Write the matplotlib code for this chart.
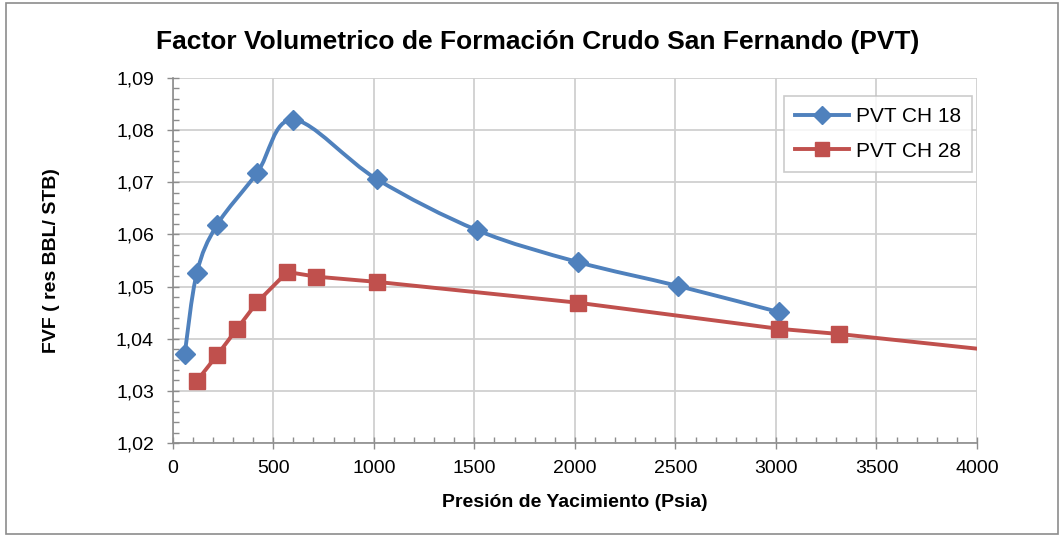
import matplotlib
matplotlib.use('Agg')
import matplotlib.pyplot as plt
from matplotlib.path import Path
from matplotlib.patches import PathPatch, Rectangle
from matplotlib.ticker import MultipleLocator, FuncFormatter
import numpy as np

# ==========================================
# Datos
# ==========================================
p_ch18 = [60, 120, 220, 420, 600, 1015, 1515, 2015, 2515, 3015]
bo_ch18 = [1.0371, 1.0526, 1.0618, 1.0718, 1.0820, 1.0706, 1.0608, 1.0547, 1.0501, 1.0451]

p_ch28 = [120, 220, 320, 420, 570, 715, 1015, 2015, 3015, 3315, 4315]
bo_ch28 = [1.0319, 1.0368, 1.0419, 1.0470, 1.0528, 1.0519, 1.0509, 1.0469, 1.0419, 1.0409, 1.0368]

label_ch18 = 'PVT CH 18'
label_ch28 = 'PVT CH 28'
blue = '#4F81BD'
red = '#C0504D'

plt.rcParams['font.family'] = ['Liberation Sans', 'DejaVu Sans']


def smooth_path(x, y):
    # curva suavizada tipo Excel (Catmull-Rom -> Bezier)
    pts = np.column_stack([x, y]).astype(float)
    n = len(pts)
    verts = [pts[0]]
    codes = [Path.MOVETO]
    for i in range(n - 1):
        p0 = pts[i - 1] if i > 0 else pts[i]
        p1 = pts[i]
        p2 = pts[i + 1]
        p3 = pts[i + 2] if i + 2 < n else pts[i + 1]
        c1 = p1 + (p2 - p0) / 6.0
        c2 = p2 - (p3 - p1) / 6.0
        verts += [c1, c2, p2]
        codes += [Path.CURVE4] * 3
    return Path(verts, codes)


fig = plt.figure(figsize=(10.62, 5.36), dpi=100)
ax = fig.add_axes([0.1626, 0.1735, 0.7574, 0.681])

# CH 18 suavizada, CH 28 con segmentos rectos
ax.add_patch(PathPatch(smooth_path(p_ch18, bo_ch18), facecolor='none', edgecolor=blue,
                       lw=2.8, zorder=3, capstyle='round'))
ax.plot(p_ch28, bo_ch28, '-', color=red, lw=2.8, zorder=3)

ax.plot(p_ch18, bo_ch18, 'D', color=blue, ms=10.5, zorder=4)
ax.plot(p_ch28, bo_ch28, 's', color=red, ms=11, zorder=4)

# proxies para la leyenda
ax.plot([], [], '-D', color=blue, lw=2.8, ms=9, label=label_ch18)
ax.plot([], [], '-s', color=red, lw=2.8, ms=10, label=label_ch28)

ax.set_xlim(0, 4000)
ax.set_ylim(1.02, 1.09)
ax.xaxis.set_major_locator(MultipleLocator(500))
ax.xaxis.set_minor_locator(MultipleLocator(100))
ax.yaxis.set_major_locator(MultipleLocator(0.01))
ax.yaxis.set_minor_locator(MultipleLocator(0.002))
ax.yaxis.set_major_formatter(FuncFormatter(lambda v, p: f'{v:.2f}'.replace('.', ',')))

ax.grid(True, which='major', color='#d0d0d0', lw=1.3, zorder=0)
ax.set_axisbelow(True)
for s in ['top', 'right']:
    ax.spines[s].set_visible(False)
for s in ['left', 'bottom']:
    ax.spines[s].set_color('#8c8c8c')
    ax.spines[s].set_linewidth(1.2)

ax.tick_params(which='major', direction='inout', length=9, width=1, color='#8c8c8c',
               labelsize=14, pad=8)
ax.tick_params(which='minor', direction='in', length=4, width=1, color='#8c8c8c')
ax.tick_params(axis='y', which='major', pad=9)

ax.set_xlabel('Presión de Yacimiento (Psia)', fontsize=14, fontweight='bold', labelpad=12)
ax.set_ylabel('FVF ( res BBL/ STB)', fontsize=14, fontweight='bold', labelpad=40)
fig.text(0.506, 0.922, 'Factor Volumetrico de Formación Crudo San Fernando (PVT)',
         ha='center', va='center', fontsize=19, fontweight='bold')

leg = ax.legend(loc='upper right', bbox_to_anchor=(0.994, 0.952), fontsize=15,
                frameon=True, fancybox=False, handlelength=2.6, labelspacing=0.75,
                borderpad=0.55, handletextpad=0.3, borderaxespad=0)
leg.get_frame().set_edgecolor('#bfbfbf')
leg.get_frame().set_linewidth(1.2)

fig.patches.append(Rectangle((0.006, 0.004), 0.99, 0.99, transform=fig.transFigure,
                             fill=False, edgecolor='#8c8c8c', lw=1.2))

plt.savefig('out.png', dpi=100)
plt.close()
